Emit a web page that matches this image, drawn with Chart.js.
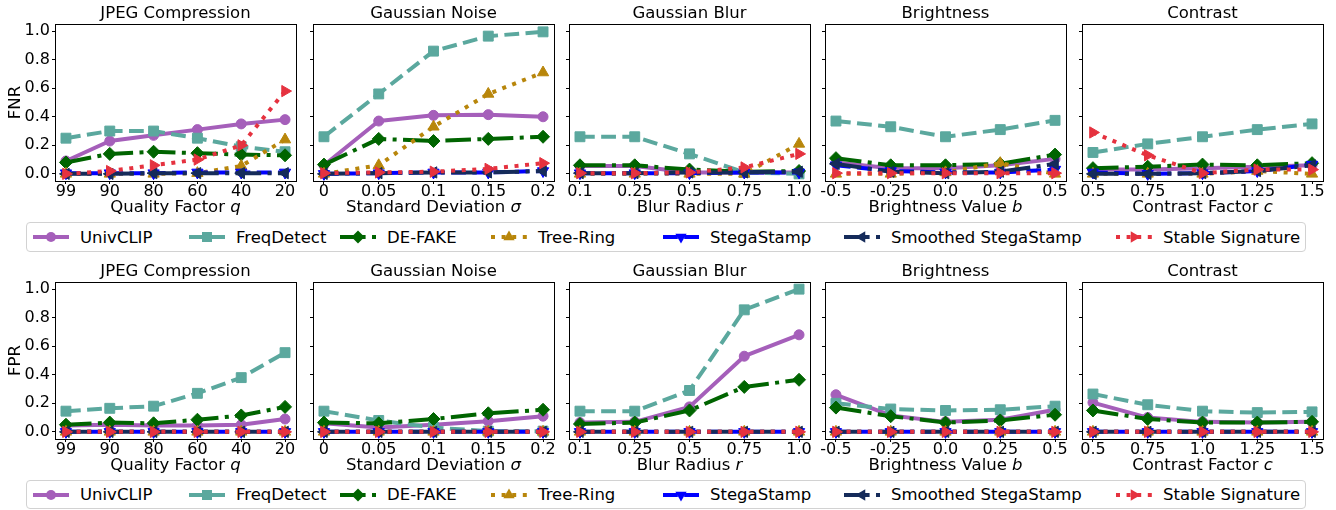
<!DOCTYPE html>
<html><head><meta charset="utf-8">
<script src="https://cdn.jsdelivr.net/npm/chart.js@4.4.1/dist/chart.umd.min.js"></script>
<style>
html,body{margin:0;padding:0;background:#fff;}
body{width:1336px;height:510px;position:relative;overflow:hidden;font-family:'DejaVu Sans';}
.panel{position:absolute;}
.legend{position:absolute;border:1px solid #d2d2d2;border-radius:4px;box-sizing:border-box;background:#fff;}
.item{position:absolute;top:0;height:100%;display:flex;align-items:center;font-size:16.5px;color:#000;white-space:nowrap;font-family:'DejaVu Sans';}
.sample{position:absolute;top:50%;margin-top:-10px;}
</style></head><body>
<script>
// ---------------- DATA ----------------
const methods = ['UnivCLIP','FreqDetect','DE-FAKE','Tree-Ring','StegaStamp','Smoothed StegaStamp','Stable Signature'];

const jpegQ = ['99','90','80','60','40','20'];
const noiseSigma = ['0','0.05','0.1','0.15','0.2'];
const blurR = ['0.1','0.25','0.5','0.75','1.0'];
const brightB = ['-0.5','-0.25','0.0','0.25','0.5'];
const contrastC = ['0.5','0.75','1.0','1.25','1.5'];
const yTicks = [0.0,0.2,0.4,0.6,0.8,1.0];

// rows follow the order of `methods`
const fnrJpeg = [
  [0.09,0.23,0.27,0.31,0.35,0.38],
  [0.25,0.30,0.30,0.25,0.19,0.155],
  [0.08,0.14,0.155,0.145,0.135,0.13],
  [0.0,0.0,0.0,0.005,0.055,0.24],
  [0.005,0.005,0.005,0.01,0.01,0.01],
  [0.0,0.0,0.005,0.005,0.005,0.005],
  [0.0,0.02,0.06,0.10,0.20,0.58]
];
const fnrNoise = [
  [0.06,0.37,0.41,0.415,0.40],
  [0.26,0.56,0.86,0.965,0.995],
  [0.065,0.245,0.23,0.245,0.26],
  [0.0,0.06,0.33,0.56,0.71],
  [0.0,0.005,0.01,0.01,0.02],
  [0.0,0.005,0.01,0.01,0.02],
  [0.005,0.01,0.015,0.035,0.075]
];
const fnrBlur = [
  [0.055,0.055,0.01,0.01,0.01],
  [0.26,0.26,0.14,0.01,0.0],
  [0.06,0.06,0.03,0.015,0.02],
  [0.0,0.0,0.0,0.0,0.21],
  [0.005,0.005,0.005,0.01,0.01],
  [0.005,0.005,0.01,0.01,0.015],
  [0.005,0.005,0.01,0.045,0.14]
];
const fnrBright = [
  [0.08,0.04,0.04,0.06,0.105],
  [0.37,0.33,0.26,0.31,0.375],
  [0.11,0.06,0.06,0.07,0.135],
  [0.0,0.0,0.01,0.075,0.0],
  [0.06,0.02,0.01,0.01,0.03],
  [0.07,0.015,0.005,0.015,0.07],
  [0.005,0.005,0.005,0.005,0.005]
];
const fnrContrast = [
  [0.03,0.03,0.04,0.05,0.06],
  [0.15,0.21,0.26,0.31,0.35],
  [0.04,0.05,0.065,0.06,0.075],
  [0.0,0.0,0.0,0.02,0.0],
  [0.01,0.0,0.005,0.02,0.065],
  [0.0,0.0,0.005,0.02,0.06],
  [0.29,0.13,0.005,0.03,0.03]
];
const fprJpeg = [
  [0.045,0.05,0.045,0.045,0.05,0.09],
  [0.145,0.165,0.18,0.27,0.38,0.555],
  [0.05,0.065,0.06,0.085,0.115,0.175],
  [0,0,0,0,0,0],
  [0,0,0,0,0,0],
  [0,0,0,0,0,0],
  [0,0,0,0,0,0]
];
const fprNoise = [
  [0.06,0.03,0.05,0.075,0.11],
  [0.145,0.08,0.03,0.005,0.005],
  [0.065,0.06,0.09,0.13,0.155],
  [0,0,0,0,0],
  [0,0,0,0,0],
  [0,0,0,0,0],
  [0,0,0,0,0]
];
const fprBlur = [
  [0.065,0.07,0.175,0.53,0.68],
  [0.145,0.145,0.29,0.855,1.0],
  [0.055,0.065,0.15,0.315,0.365],
  [0,0,0,0,0],
  [0,0,0,0,0],
  [0,0,0,0,0],
  [0,0,0,0,0]
];
const fprBright = [
  [0.26,0.115,0.07,0.085,0.155],
  [0.20,0.16,0.15,0.155,0.18],
  [0.17,0.11,0.065,0.08,0.12],
  [0,0,0,0,0],
  [0,0,0,0,0],
  [0,0,0,0,0],
  [0,0,0,0,0]
];
const fprContrast = [
  [0.205,0.10,0.07,0.065,0.07],
  [0.265,0.19,0.145,0.135,0.14],
  [0.15,0.09,0.065,0.065,0.07],
  [0,0,0,0,0],
  [0,0,0,0,0],
  [0,0,0,0,0],
  [0,0,0,0,0]
];

// ---------------- STYLES ----------------
const LW = 4;
const DASH = [14.8, 6.4], DASHDOT = [25.6, 6.4, 4, 6.4], DOT = [4, 6.6];
const styles = [
  {color:'#a55fba', dash:[],      point:'circle',   r:5,   rot:0},
  {color:'#5ba89e', dash:DASH,    point:'rect',     r:7,   rot:0},
  {color:'#006400', dash:DASHDOT, point:'rectRot',  r:6.5, rot:0},
  {color:'#b8860b', dash:DOT,     point:'triangle', r:6.5, rot:0},
  {color:'#0000ff', dash:DASH,    point:'triangle', r:6.5, rot:180},
  {color:'#152b5a', dash:DASHDOT, point:'triangle', r:6.5, rot:270},
  {color:'#e5323f', dash:DOT,     point:'triangle', r:6.5, rot:90}
];

Chart.defaults.font.family = "'DejaVu Sans'";
Chart.defaults.font.size = 16;
Chart.defaults.color = '#000';

// ---------------- LAYOUT ----------------
const PANEL_LEFT = [55, 313, 569, 825, 1082];
const PANEL_W = 241, PANEL_H = 157;
const ROW_TOP = [24, 282];
const T = 24, XH = 40, R = 3;

const xTitlePlugin = {
  id: 'xTitle',
  afterDraw(chart, args, opts) {
    const {ctx, chartArea} = chart;
    const cx = (chartArea.left + chartArea.right) / 2;
    const y = chartArea.bottom + opts.offset;
    ctx.save();
    const fReg = "16.5px 'DejaVu Sans'", fIt = "italic 16.5px 'DejaVu Sans'";
    ctx.font = fReg; const w1 = ctx.measureText(opts.text).width;
    ctx.font = fIt; const w2 = ctx.measureText(opts.variable).width;
    const x = cx - (w1 + w2) / 2;
    ctx.textBaseline = 'middle'; ctx.textAlign = 'left'; ctx.fillStyle = '#000';
    ctx.font = fReg; ctx.fillText(opts.text, x, y);
    ctx.font = fIt; ctx.fillText(opts.variable, x + w1, y);
    ctx.restore();
  }
};

function makePanel(row, col, cats, series, title, xText, xVar) {
  const YW = col === 0 ? 55 : 5;
  const div = document.createElement('div');
  div.className = 'panel';
  div.style.left = (PANEL_LEFT[col] - YW) + 'px';
  div.style.top = (ROW_TOP[row] - T) + 'px';
  div.style.width = (YW + PANEL_W + R) + 'px';
  div.style.height = (T + PANEL_H + XH) + 'px';
  const cv = document.createElement('canvas');
  div.appendChild(cv);
  document.body.appendChild(div);

  const n = cats.length;
  const m = (n - 1) * 0.05;
  const border = {display: true, color: '#000', width: 1};

  const datasets = series.map((vals, i) => ({
    label: methods[i],
    data: vals.map((v, j) => ({x: j, y: v})),
    borderColor: styles[i].color,
    backgroundColor: styles[i].color,
    borderWidth: LW,
    borderDash: styles[i].dash,
    borderCapStyle: 'butt',
    borderJoinStyle: 'round',
    pointStyle: styles[i].point,
    pointRadius: styles[i].r,
    pointHoverRadius: styles[i].r,
    pointRotation: styles[i].rot,
    pointBackgroundColor: styles[i].color,
    pointBorderColor: styles[i].color,
    pointBorderWidth: 1,
    tension: 0,
    fill: false,
    order: 6 - i
  }));

  new Chart(cv, {
    type: 'line',
    data: {datasets},
    plugins: [xTitlePlugin],
    options: {
      responsive: true,
      maintainAspectRatio: false,
      animation: false,
      devicePixelRatio: 1,
      events: [],
      layout: {padding: {top: 0, left: 0, right: R, bottom: 0}, autoPadding: false},
      plugins: {
        legend: {display: false},
        tooltip: {enabled: false},
        title: {display: false},
        xTitle: {text: xText, variable: xVar, offset: 27}
      },
      scales: {
        x: {
          type: 'linear', position: 'bottom', min: -m, max: n - 1 + m,
          afterBuildTicks: s => { s.ticks = cats.map((_, i) => ({value: i})); },
          ticks: {callback: v => cats[v], font: {size: 16, lineHeight: 1}, color: '#000', padding: 0, maxRotation: 0, autoSkip: false},
          grid: {display: true, drawOnChartArea: false, drawTicks: true, tickLength: 3, color: '#000', lineWidth: 1},
          border: border,
          afterFit: s => { s.height = XH; }
        },
        x2: {
          type: 'linear', position: 'top', min: -m, max: n - 1 + m,
          ticks: {display: false}, grid: {display: false}, border: border,
          title: {display: true, text: title, font: {size: 16.5, lineHeight: 1.2}, color: '#000', padding: {top: 4, bottom: 0}},
          afterFit: s => { s.height = T; }
        },
        y: {
          type: 'linear', position: 'left', min: -0.05, max: 1.05,
          afterBuildTicks: s => { s.ticks = yTicks.map(v => ({value: v})); },
          ticks: {display: col === 0, callback: v => v.toFixed(1), font: {size: 16}, color: '#000', padding: 2},
          grid: {display: true, drawOnChartArea: false, drawTicks: true, tickLength: 3, color: '#000', lineWidth: 1},
          border: border,
          title: {display: col === 0, text: row === 0 ? 'FNR' : 'FPR', font: {size: 16.5, lineHeight: 1.2}, color: '#000', padding: {top: 6, bottom: 0}},
          afterFit: s => { s.width = YW; }
        },
        y2: {
          type: 'linear', position: 'right', min: -0.05, max: 1.05,
          ticks: {display: false}, grid: {display: false}, border: border,
          afterFit: s => { s.width = 0; }
        }
      }
    }
  });
}

const panels = [
  {cats: jpegQ, title: 'JPEG Compression', xText: 'Quality Factor ', xVar: 'q', fnr: fnrJpeg, fpr: fprJpeg},
  {cats: noiseSigma, title: 'Gaussian Noise', xText: 'Standard Deviation ', xVar: 'σ', fnr: fnrNoise, fpr: fprNoise},
  {cats: blurR, title: 'Gaussian Blur', xText: 'Blur Radius ', xVar: 'r', fnr: fnrBlur, fpr: fprBlur},
  {cats: brightB, title: 'Brightness', xText: 'Brightness Value ', xVar: 'b', fnr: fnrBright, fpr: fprBright},
  {cats: contrastC, title: 'Contrast', xText: 'Contrast Factor ', xVar: 'c', fnr: fnrContrast, fpr: fprContrast}
];
panels.forEach((p, col) => {
  makePanel(0, col, p.cats, p.fnr, p.title, p.xText, p.xVar);
  makePanel(1, col, p.cats, p.fpr, p.title, p.xText, p.xVar);
});

// ---------------- LEGENDS ----------------
const LEG_LEFT = 26, LEG_W = 1280;
const legTops = [222, 480], legH = [30, 29];
const textLeft = [80, 236, 387, 538, 710, 891, 1163];

function markerSvg(st) {
  const c = st.color, cx = 18, cy = 10;
  if (st.point === 'circle') return `<circle cx="${cx}" cy="${cy}" r="5" fill="${c}"/>`;
  if (st.point === 'rect') return `<rect x="${cx-5}" y="${cy-5}" width="10" height="10" fill="${c}"/>`;
  if (st.point === 'rectRot') return `<polygon points="${cx},${cy-6.5} ${cx+6.5},${cy} ${cx},${cy+6.5} ${cx-6.5},${cy}" fill="${c}"/>`;
  const r = 6.5, pts = [];
  for (let k = 0; k < 3; k++) {
    const a = (st.rot + k * 120) * Math.PI / 180;
    pts.push((cx + Math.sin(a) * r).toFixed(2) + ',' + (cy - Math.cos(a) * r).toFixed(2));
  }
  return `<polygon points="${pts.join(' ')}" fill="${c}"/>`;
}

legTops.forEach((top, li) => {
  const box = document.createElement('div');
  box.className = 'legend';
  box.style.left = LEG_LEFT + 'px'; box.style.top = top + 'px';
  box.style.width = LEG_W + 'px'; box.style.height = legH[li] + 'px';
  methods.forEach((name, i) => {
    const st = styles[i];
    const tl = textLeft[i] - LEG_LEFT - 1;
    const svg = `<svg class="sample" width="36" height="20" style="left:${tl - 47}px" xmlns="http://www.w3.org/2000/svg">
      <line x1="0" y1="10" x2="36" y2="10" stroke="${st.color}" stroke-width="${LW}" stroke-dasharray="${st.dash.join(' ')}" stroke-linecap="butt"/>
      ${markerSvg(st)}</svg>`;
    box.insertAdjacentHTML('beforeend', svg);
    const item = document.createElement('div');
    item.className = 'item';
    item.style.left = tl + 'px';
    item.textContent = name;
    box.appendChild(item);
  });
  document.body.appendChild(box);
});
</script>
</body></html>
